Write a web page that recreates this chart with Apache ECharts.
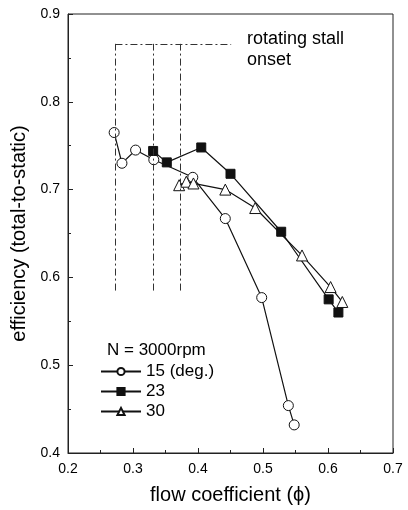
<!DOCTYPE html>
<html>
<head>
<meta charset="utf-8">
<script src="https://cdn.jsdelivr.net/npm/echarts@6/dist/echarts.min.js"></script>
<style>
  html, body { margin: 0; padding: 0; background: #fff; }
  #chart { width: 408px; height: 510px; }
</style>
</head>
<body>
<div id="chart"></div>
<script>
// measured points: [flow coefficient, efficiency]
var deg15 = [[0.271, 0.765], [0.283, 0.730], [0.304, 0.745], [0.332, 0.734], [0.392, 0.714],
             [0.442, 0.667], [0.498, 0.577], [0.539, 0.454], [0.548, 0.432]];
var deg23 = [[0.331, 0.744], [0.352, 0.731], [0.405, 0.748], [0.450, 0.718], [0.528, 0.652],
             [0.601, 0.575], [0.616, 0.560]];
var deg30 = [[0.371, 0.705], [0.382, 0.709], [0.393, 0.707], [0.442, 0.700], [0.488, 0.679],
             [0.560, 0.625], [0.604, 0.589], [0.622, 0.572]];

// rotating stall onset markers
var stallX = [0.273, 0.331, 0.372];
var stallTop = 0.866;
var stallBottom = 0.585;
var stallRight = 0.451;

var font = 'Liberation Sans, Arial, Helvetica, sans-serif';
var dashDot = [7, 3, 2, 3];

var stallLines = stallX.map(function (x) {
  return [{ coord: [x, stallBottom] }, { coord: [x, stallTop] }];
});
stallLines.push([{ coord: [stallX[0], stallTop] }, { coord: [stallRight, stallTop] }]);

function lineSeries(name, data, symbol, size, fill) {
  return {
    name: name,
    type: 'line',
    data: data,
    symbol: symbol,
    symbolSize: size,
    showAllSymbol: true,
    lineStyle: { color: '#111', width: 1.2 },
    itemStyle: { color: fill, borderColor: '#111', borderWidth: 1 },
    emphasis: { disabled: true },
    z: 3
  };
}

var myChart = echarts.init(document.getElementById('chart'));
var option = {
  backgroundColor: '#fff',
  animation: false,
  textStyle: { fontFamily: font, color: '#000' },
  grid: {
    left: 68, right: 15, top: 14, bottom: 54,
    show: true, borderColor: '#222', borderWidth: 1
  },
  title: {
    text: 'N = 3000rpm',
    left: 107, top: 342, padding: 0,
    textStyle: { fontFamily: font, fontSize: 17, fontWeight: 'normal', color: '#000' }
  },
  legend: {
    data: ['15 (deg.)', '23', '30'],
    orient: 'vertical',
    left: 100, top: 363, padding: 0,
    itemWidth: 40, itemHeight: 9, itemGap: 3,
    textStyle: { fontFamily: font, fontSize: 17, color: '#000' },
    selectedMode: false
  },
  graphic: [{
    type: 'text',
    left: 247, top: 29,
    style: { text: 'rotating stall\nonset', font: '18px ' + font, fill: '#000', lineHeight: 21 }
  }],
  xAxis: {
    type: 'value',
    min: 0.2, max: 0.7, interval: 0.1,
    name: 'flow coefficient (\u03d5)',
    nameLocation: 'middle', nameGap: 32,
    nameTextStyle: { fontFamily: font, fontSize: 20, color: '#000' },
    axisLine: { show: true, lineStyle: { color: '#222' } },
    axisTick: { inside: true, length: 5, lineStyle: { color: '#222' } },
    minorTick: { show: true, splitNumber: 2, length: 3, lineStyle: { color: '#222' } },
    axisLabel: { fontSize: 14, color: '#000', margin: 9, formatter: function (v) { return v.toFixed(1); } },
    splitLine: { show: false }
  },
  yAxis: {
    type: 'value',
    min: 0.4, max: 0.9, interval: 0.1,
    name: 'efficiency (total-to-static)',
    nameLocation: 'middle', nameGap: 30,
    nameTextStyle: { fontFamily: font, fontSize: 20, color: '#000' },
    axisLine: { show: true, lineStyle: { color: '#222' } },
    axisTick: { inside: true, length: 5, lineStyle: { color: '#222' } },
    minorTick: { show: true, splitNumber: 2, length: 3, lineStyle: { color: '#222' } },
    axisLabel: { fontSize: 14, color: '#000', margin: 8, formatter: function (v) { return v.toFixed(1); } },
    splitLine: { show: false }
  },
  series: [
    {
      name: 'stall',
      type: 'line',
      data: [],
      markLine: {
        silent: true,
        symbol: 'none',
        label: { show: false },
        lineStyle: { color: '#333', width: 1, type: dashDot },
        data: stallLines
      }
    },
    lineSeries('15 (deg.)', deg15, 'circle', 10, '#fff'),
    lineSeries('23', deg23, 'rect', 9, '#111'),
    lineSeries('30', deg30, 'triangle', 11, '#fff')
  ]
};
myChart.setOption(option);
</script>
</body>
</html>
